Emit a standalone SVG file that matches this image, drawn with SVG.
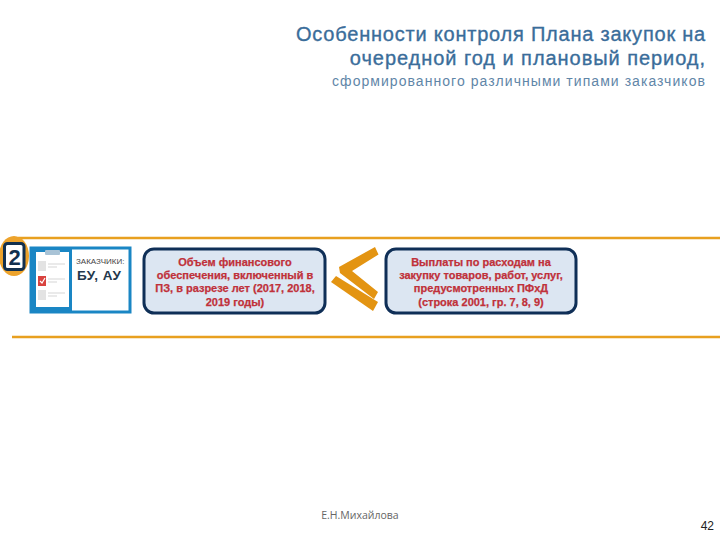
<svg xmlns="http://www.w3.org/2000/svg" width="720" height="540" viewBox="0 0 720 540">
<style>
text{font-family:"Liberation Sans",Arial,sans-serif}
.t1{font-size:20px;fill:#3a6d9a;stroke:#3a6d9a;stroke-width:.35px;text-anchor:end;letter-spacing:.78px}
.t2{font-size:14px;fill:#5f86a8;text-anchor:end;letter-spacing:1.05px}
.red{font-size:11px;font-weight:bold;fill:#c0313a;text-anchor:middle;stroke:#c0313a;stroke-width:.25px}
.box{fill:#dce6f2;stroke:#0f2f57;stroke-width:3}
.rule{stroke:#e8a020;stroke-width:2.5;fill:none}
.lt{fill:#e39412}
.row{fill:#e3e3e3}
.ln{stroke:#d5d5d5;stroke-width:1}
</style>
<rect width="720" height="540" fill="#fff"/>
<g id="title">
<text class="t1" x="706" y="41">Особенности контроля Плана закупок на</text>
<text class="t1" x="706" y="65" style="letter-spacing:.95px">очередной год и плановый период,</text>
<text class="t2" x="706" y="86">сформированного различными типами заказчиков</text>
</g>
<g id="rules">
<path class="rule" d="M18 238H720"/>
<path class="rule" d="M12 337H720"/>
</g>
<g id="badge">
<ellipse cx="14" cy="256" rx="15" ry="20" fill="#eda32c"/>
<rect x="4.5" y="243.5" width="19.500" height="26" rx="3" fill="#fff" stroke="#12304f" stroke-width="3"/>
<text x="14.500" y="265" font-size="22" font-weight="bold" fill="#12304f" text-anchor="middle">2</text>
</g>
<g id="customers">
<rect x="31" y="248" width="99" height="64" fill="#fff" stroke="#1a86c4" stroke-width="3"/>
<rect x="31" y="248" width="41" height="64" fill="#1a86c4"/>
<rect x="36" y="252" width="33" height="55" fill="#fff"/>
<rect x="45" y="250" width="15" height="5" rx="1" fill="#a9c3d6"/>
<rect class="row" x="38" y="261" width="8" height="10"/>
<rect x="38" y="276" width="8" height="10" fill="#d9433f"/>
<path d="M40 281l2 2 3-5" fill="none" stroke="#fff" stroke-width="1.2"/>
<rect class="row" x="38" y="290" width="8" height="10"/>
<path class="ln" d="M48 264H65M48 267H57M48 279H65M48 282H57M48 293H65M48 296H57"/>
<text x="76" y="264" font-size="8" fill="#444">ЗАКАЗЧИКИ:</text>
<text x="77" y="280" font-size="13.500" font-weight="bold" fill="#24384c" letter-spacing=".5">БУ, АУ</text>
</g>
<g id="left-box">
<rect class="box" x="144" y="249" width="181" height="64" rx="10"/>
<text class="red" x="235" y="266">Объем финансового</text>
<text class="red" x="235" y="279">обеспечения, включенный в</text>
<text class="red" x="235" y="292">ПЗ, в разрезе лет (2017, 2018,</text>
<text class="red" x="235" y="306">2019 годы)</text>
</g>
<g id="less-equal">
<path class="lt" d="M375 247L378.500 254.500 352 271 378 292 374 299 340 273 339 267z"/>
<path class="lt" d="M336 276L331 282 373 311 378 302z"/>
</g>
<g id="right-box">
<rect class="box" x="386" y="249" width="190" height="64" rx="10"/>
<text class="red" x="481" y="266">Выплаты по расходам на</text>
<text class="red" x="481" y="279">закупку товаров, работ, услуг,</text>
<text class="red" x="481" y="292">предусмотренных ПФхД</text>
<text class="red" x="481" y="306">(строка 2001, гр. 7, 8, 9)</text>
</g>
<g id="footer">
<text x="360" y="519" font-size="10.5" fill="#666" text-anchor="middle" style="font-family:'Open Sans','DejaVu Sans',sans-serif">Е.Н.Михайлова</text>
<text x="714" y="530" font-size="12" fill="#222" text-anchor="end">42</text>
</g>
</svg>
